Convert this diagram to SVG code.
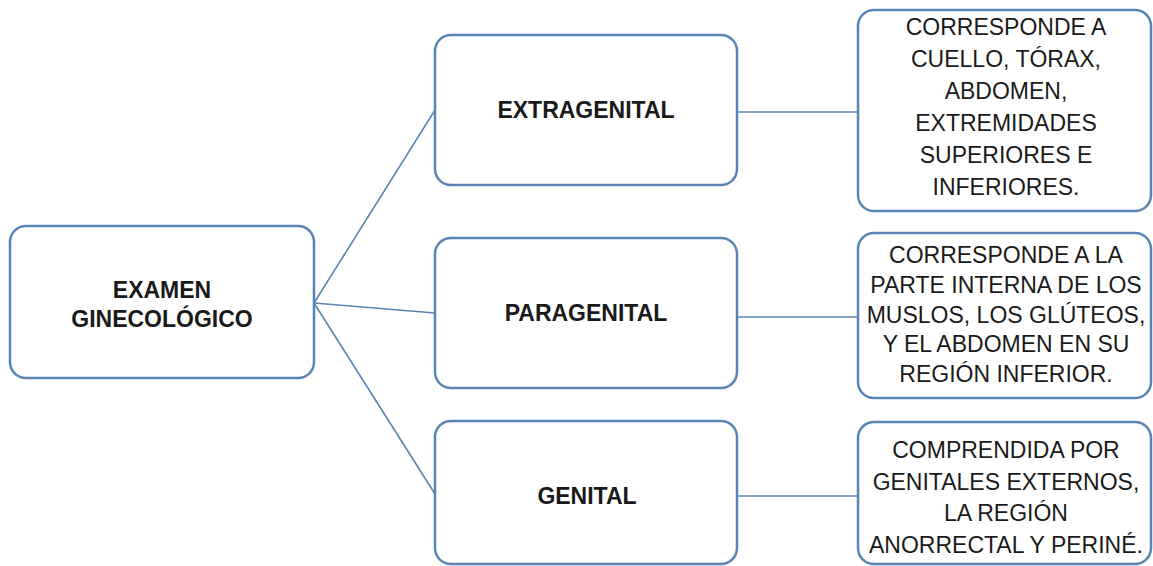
<svg xmlns="http://www.w3.org/2000/svg" width="1153" height="566" viewBox="0 0 1153 566">
<style>
.box{fill:#ffffff;stroke:#5a84b4;stroke-width:2.5}
.con{stroke:#5a84b4;stroke-width:1.6;fill:none}
.b{font-family:"Liberation Sans",Arial,sans-serif;font-weight:bold;font-size:23px;fill:#1a1a1a;text-anchor:middle}
.r{font-family:"Liberation Sans",Arial,sans-serif;font-size:23px;fill:#1a1a1a;text-anchor:middle}
</style>
<rect width="1153" height="566" fill="#ffffff"/>
<g id="connectors">
<line class="con" x1="314" y1="303" x2="435" y2="110"/>
<line class="con" x1="314" y1="303" x2="435" y2="313"/>
<line class="con" x1="314" y1="303" x2="435" y2="494"/>
<line class="con" x1="737" y1="112" x2="858" y2="112"/>
<line class="con" x1="737" y1="317" x2="858" y2="317"/>
<line class="con" x1="737" y1="496" x2="858" y2="496"/>
</g>
<g id="examen">
<rect class="box" x="10" y="226" width="304" height="152" rx="16"/>
<text class="b" x="162" y="298">EXAMEN</text>
<text class="b" x="162" y="327">GINECOLÓGICO</text>
</g>
<g id="extragenital">
<rect class="box" x="435" y="35" width="302" height="150" rx="16"/>
<text class="b" x="586" y="118">EXTRAGENITAL</text>
</g>
<g id="paragenital">
<rect class="box" x="435" y="238" width="302" height="150" rx="16"/>
<text class="b" x="586" y="321">PARAGENITAL</text>
</g>
<g id="genital">
<rect class="box" x="435" y="421" width="302" height="143" rx="16"/>
<text class="b" x="587" y="504">GENITAL</text>
</g>
<g id="desc-extragenital">
<rect class="box" x="858" y="10" width="293" height="201" rx="16"/>
<text class="r" x="1006" y="35">CORRESPONDE A</text>
<text class="r" x="1006" y="67">CUELLO, TÓRAX,</text>
<text class="r" x="1006" y="99">ABDOMEN,</text>
<text class="r" x="1006" y="131">EXTREMIDADES</text>
<text class="r" x="1006" y="163">SUPERIORES E</text>
<text class="r" x="1006" y="195">INFERIORES.</text>
</g>
<g id="desc-paragenital">
<rect class="box" x="858" y="233" width="293" height="165" rx="16"/>
<text class="r" x="1006" y="263">CORRESPONDE A LA</text>
<text class="r" x="1006" y="293">PARTE INTERNA DE LOS</text>
<text class="r" x="1006" y="323">MUSLOS, LOS GLÚTEOS,</text>
<text class="r" x="1006" y="352">Y EL ABDOMEN EN SU</text>
<text class="r" x="1006" y="382">REGIÓN INFERIOR.</text>
</g>
<g id="desc-genital">
<rect class="box" x="858" y="422" width="293" height="142" rx="16"/>
<text class="r" x="1006" y="458">COMPRENDIDA POR</text>
<text class="r" x="1006" y="490">GENITALES EXTERNOS,</text>
<text class="r" x="1006" y="521">LA REGIÓN</text>
<text class="r" x="1006" y="553">ANORRECTAL Y PERINÉ.</text>
</g>
</svg>
